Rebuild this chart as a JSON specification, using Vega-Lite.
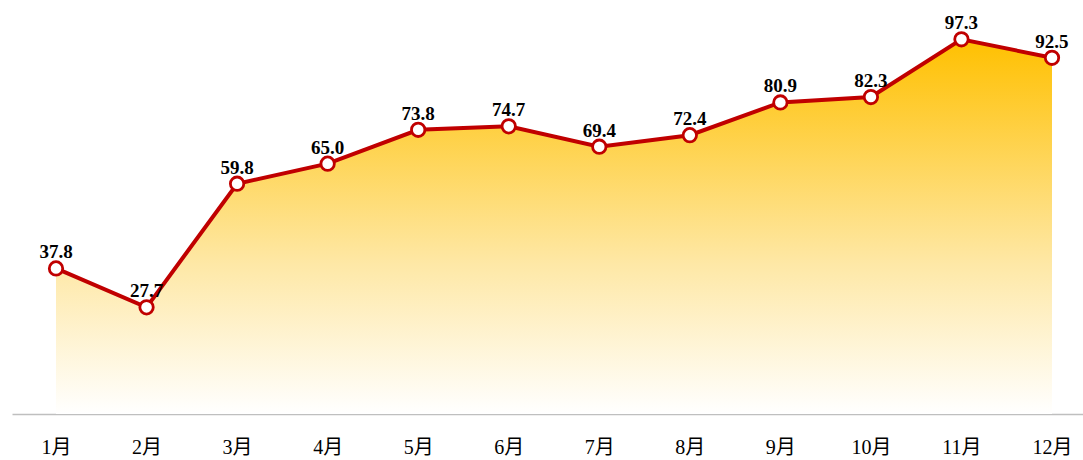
{
  "$schema": "https://vega.github.io/schema/vega-lite/v6.json",
  "width": 1084,
  "height": 414,
  "autosize": {"type": "none"},
  "padding": {"left": 12, "top": 0, "right": 0, "bottom": 46},
  "background": "white",
  "config": {"view": {"stroke": null}},
  "data": {"values": [
    {"m": "1月", "v": 37.8},
    {"m": "2月", "v": 27.7},
    {"m": "3月", "v": 59.8},
    {"m": "4月", "v": 65.0},
    {"m": "5月", "v": 73.8},
    {"m": "6月", "v": 74.7},
    {"m": "7月", "v": 69.4},
    {"m": "8月", "v": 72.4},
    {"m": "9月", "v": 80.9},
    {"m": "10月", "v": 82.3},
    {"m": "11月", "v": 97.3},
    {"m": "12月", "v": 92.5}
  ]},
  "encoding": {
    "x": {"field": "m", "type": "ordinal", "sort": null,
      "scale": {"type": "point", "range": [0, 1084], "padding": 0.486},
      "axis": {"title": null, "labelAngle": 0, "ticks": false, "domainColor": "#BFBFBF", "domainWidth": 1.5,
        "labelFont": "Liberation Serif, Noto Sans CJK SC", "labelFontSize": 20, "labelColor": "#000000", "labelPadding": 23, "grid": false}},
    "y": {"field": "v", "type": "quantitative", "scale": {"domain": [0, 107.5], "nice": false, "zero": true}, "axis": null}
  },
  "layer": [
    {"mark": {"type": "area", "color": {"gradient": "linear", "x1": 0, "y1": 0, "x2": 0, "y2": 1,
      "stops": [{"offset": 0, "color": "#FFC000"}, {"offset": 0.6, "color": "#FEE8A6"}, {"offset": 1, "color": "#FFFFFF"}]}}},
    {"mark": {"type": "line", "color": "#C00000", "strokeWidth": 4}},
    {"mark": {"type": "point", "filled": true, "fill": "white", "stroke": "#C00000", "strokeWidth": 2.8, "size": 180, "opacity": 1}},
    {"mark": {"type": "text", "font": "Liberation Serif", "fontSize": 19, "fontWeight": "bold", "color": "#000000", "baseline": "bottom", "dy": -6},
      "encoding": {"text": {"field": "v", "type": "quantitative", "format": ".1f"}}}
  ]
}
